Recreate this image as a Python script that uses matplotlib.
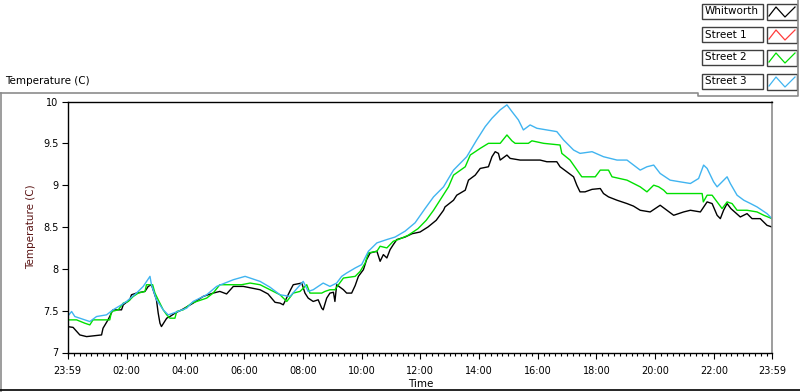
import numpy as np
import matplotlib
matplotlib.use("Agg")
import matplotlib.pyplot as plt
from matplotlib.lines import Line2D
from matplotlib.patches import Rectangle

W, H = 800, 392

# time in hours after the 23:59 start, temperature in C
whit_t = [0.00, 0.19, 0.42, 0.65, 1.16, 1.21, 1.38, 1.55, 1.84, 1.90, 2.12, 2.18, 2.35,
          2.64, 2.75, 2.86, 3.03, 3.09, 3.15, 3.20, 3.38, 3.49, 3.66, 3.89, 4.28, 4.62,
          4.96, 5.19, 5.42, 5.65, 5.99, 6.56, 6.83, 7.07, 7.24, 7.35, 7.60, 7.69, 7.98,
          8.09, 8.20, 8.37, 8.54, 8.66, 8.71, 8.83, 8.94, 9.06, 9.11, 9.17, 9.40, 9.51,
          9.68, 9.80, 9.91, 10.08, 10.19, 10.31, 10.54, 10.65, 10.76, 10.88, 10.99, 11.10,
          11.22, 11.50, 11.74, 12.01, 12.28, 12.56, 12.81, 12.86, 13.15, 13.26, 13.55,
          13.66, 13.89, 14.06, 14.34, 14.46, 14.57, 14.68, 14.74, 14.97, 15.08, 15.42,
          16.10, 16.33, 16.67, 16.78, 17.01, 17.24, 17.35, 17.46, 17.63, 17.87, 18.15,
          18.26, 18.43, 18.72, 19.06, 19.28, 19.51, 19.85, 20.19, 20.42, 20.65, 20.99,
          21.22, 21.56, 21.79, 21.96, 22.13, 22.24, 22.35, 22.47, 22.60, 22.92, 23.15,
          23.32, 23.60, 23.83, 24.00]
whit_v = [7.31, 7.30, 7.21, 7.19, 7.21, 7.29, 7.39, 7.51, 7.51, 7.57, 7.63, 7.69, 7.71,
          7.73, 7.79, 7.81, 7.63, 7.47, 7.35, 7.31, 7.41, 7.43, 7.47, 7.51, 7.59, 7.67,
          7.71, 7.73, 7.70, 7.79, 7.79, 7.75, 7.70, 7.60, 7.59, 7.57, 7.75, 7.81, 7.83,
          7.71, 7.65, 7.61, 7.63, 7.53, 7.51, 7.65, 7.71, 7.72, 7.61, 7.81, 7.75, 7.71,
          7.71, 7.80, 7.91, 7.99, 8.11, 8.19, 8.21, 8.09, 8.17, 8.13, 8.23, 8.29,
          8.35, 8.38, 8.42, 8.44, 8.50, 8.58, 8.70, 8.74, 8.82, 8.88, 8.94,
          9.06, 9.12, 9.20, 9.22, 9.34, 9.40, 9.38, 9.30, 9.36, 9.32, 9.30,
          9.30, 9.28, 9.28, 9.22, 9.16, 9.10, 9.00, 8.92, 8.92, 8.95, 8.96,
          8.90, 8.86, 8.82, 8.78, 8.75, 8.70, 8.68, 8.76, 8.70, 8.64, 8.68,
          8.70, 8.68, 8.80, 8.78, 8.64, 8.60, 8.70, 8.78, 8.72, 8.62, 8.66,
          8.60, 8.60, 8.52, 8.50]

street2_t = [0.00, 0.31, 0.59, 0.76, 0.87, 1.44, 1.50, 1.73, 1.90, 2.07, 2.24, 2.41, 2.64,
             2.69, 2.90, 2.98, 3.09, 3.26, 3.38, 3.49, 3.66, 3.72, 3.94, 4.23, 4.74, 4.96,
             5.19, 5.93, 6.22, 6.56, 6.90, 7.24, 7.47, 7.69, 7.92, 8.15, 8.26, 8.66, 8.77,
             8.94, 9.11, 9.23, 9.40, 9.80, 9.97, 10.14, 10.25, 10.54, 10.65, 10.88, 11.10,
             11.27, 11.60, 11.94, 12.22, 12.47, 12.98, 13.15, 13.55, 13.72, 14.06, 14.34,
             14.74, 14.97, 15.14, 15.25, 15.70, 15.82, 16.22, 16.78, 16.84, 17.12, 17.52,
             17.98, 18.15, 18.43, 18.55, 19.06, 19.51, 19.74, 19.97, 20.14, 20.31, 20.42,
             21.62, 21.66, 21.79, 21.96, 22.13, 22.30, 22.47, 22.64, 22.81, 23.15, 23.49,
             23.72, 24.00]
street2_v = [7.39, 7.39, 7.35, 7.33, 7.39, 7.39, 7.49, 7.51, 7.59, 7.61, 7.67, 7.71, 7.73,
             7.81, 7.81, 7.71, 7.63, 7.51, 7.45, 7.41, 7.41, 7.49, 7.51, 7.59, 7.65, 7.71,
             7.81, 7.81, 7.83, 7.81, 7.75, 7.69, 7.61, 7.71, 7.73, 7.81, 7.71, 7.71, 7.73,
             7.75, 7.75, 7.81, 7.89, 7.91, 7.97, 8.07, 8.19, 8.21, 8.27, 8.25, 8.33,
             8.35, 8.40, 8.48, 8.58, 8.70, 8.98, 9.12, 9.22, 9.36, 9.44, 9.50,
             9.50, 9.60, 9.53, 9.50, 9.50, 9.53, 9.50, 9.48, 9.38, 9.30, 9.10,
             9.10, 9.18, 9.18, 9.10, 9.06, 8.98, 8.92, 9.00, 8.98, 8.94, 8.90,
             8.90, 8.80, 8.88, 8.88, 8.80, 8.72, 8.80, 8.78, 8.70, 8.70, 8.68,
             8.64, 8.60]

street3_t = [0.00, 0.14, 0.25, 0.59, 0.76, 0.99, 1.33, 1.55, 1.84, 2.01, 2.35, 2.58, 2.81,
             2.86, 3.03, 3.26, 3.43, 3.60, 4.06, 4.28, 4.74, 5.08, 5.65, 6.05, 6.56, 6.90,
             7.24, 7.58, 8.03, 8.20, 8.37, 8.71, 8.94, 9.17, 9.34, 9.51, 9.80, 10.02, 10.25,
             10.54, 10.88, 11.16, 11.50, 11.84, 12.18, 12.47, 12.81, 13.15, 13.60, 13.94,
             14.23, 14.46, 14.74, 14.97, 15.14, 15.36, 15.53, 15.76, 15.99, 16.33, 16.67,
             16.90, 17.24, 17.46, 17.87, 18.26, 18.72, 19.06, 19.51, 19.74, 19.97, 20.19,
             20.53, 20.87, 21.22, 21.50, 21.67, 21.79, 22.01, 22.13, 22.30, 22.47, 22.58,
             22.81, 23.04, 23.27, 23.49, 23.83, 24.00]
street3_v = [7.43, 7.49, 7.43, 7.39, 7.37, 7.43, 7.45, 7.51, 7.57, 7.61, 7.71, 7.79, 7.91,
             7.81, 7.63, 7.51, 7.45, 7.47, 7.53, 7.61, 7.69, 7.79, 7.87, 7.91, 7.85, 7.78,
             7.69, 7.67, 7.85, 7.73, 7.75, 7.83, 7.79, 7.83, 7.91, 7.95, 8.01, 8.05, 8.21,
             8.31, 8.35, 8.38, 8.45, 8.55, 8.72, 8.86, 8.98, 9.18, 9.34, 9.54,
             9.70, 9.80, 9.90, 9.96, 9.88, 9.78, 9.66, 9.72, 9.68, 9.66, 9.64,
             9.54, 9.42, 9.38, 9.40, 9.34, 9.30, 9.30, 9.18, 9.22, 9.24, 9.14,
             9.06, 9.04, 9.02, 9.08, 9.24, 9.20, 9.04, 8.98, 9.04, 9.10, 9.02,
             8.88, 8.82, 8.78, 8.74, 8.66, 8.60]

legend_names = ["Whitworth", "Street 1", "Street 2", "Street 3"]
colors = ["#000000", "#ff3c3c", "#00e000", "#40b4f0"]

x_labels = ["23:59", "02:00", "04:00", "06:00", "08:00", "10:00", "12:00",
            "14:00", "16:00", "18:00", "20:00", "22:00", "23:59"]
y_ticks = [7, 7.5, 8, 8.5, 9, 9.5, 10]
y_labels = ["7", "7.5", "8", "8.5", "9", "9.5", "10"]


def fx(px):
    return px / W


def fy(py):
    return 1 - py / H


def fig_line(fig, xs, ys, color, lw=1.0):
    fig.add_artist(Line2D([fx(v) for v in xs], [fy(v) for v in ys],
                          color=color, lw=lw, transform=fig.transFigure))


fig = plt.figure(figsize=(W / 100, H / 100), dpi=100)
fig.patch.set_facecolor("white")

ax = fig.add_axes([fx(67.5), fy(352.5), (772 - 67.5) / W, (352.5 - 101.5) / H])
ax.plot(whit_t, whit_v, color=colors[0], lw=1.0)
ax.plot(street2_t, street2_v, color=colors[2], lw=1.0)
ax.plot(street3_t, street3_v, color=colors[3], lw=1.0)

ax.set_xlim(0, 24)
ax.set_ylim(7, 10)

off = 1 / 60
major = [0] + [h + off for h in range(2, 23, 2)] + [24]
ax.set_xticks(major)
ax.set_xticklabels(x_labels)
minor = [0.2 * k + off for k in range(120) if (0.2 * k + off) not in major]
ax.set_xticks(minor, minor=True)
ax.set_yticks(y_ticks)
ax.set_yticklabels(y_labels)

ax.tick_params(axis="x", which="major", length=4.5, width=0.8, pad=5, labelsize=7)
ax.tick_params(axis="x", which="minor", length=2.5, width=0.8)
ax.tick_params(axis="y", which="major", length=4.5, width=0.8, pad=2, labelsize=7)

for s in ["left", "top", "bottom"]:
    ax.spines[s].set_color("black")
    ax.spines[s].set_linewidth(1.0)
ax.spines["right"].set_color("#8c8c8c")
ax.spines["right"].set_linewidth(1.2)

# labels
fig.text(fx(5), fy(81), "Temperature (C)", fontsize=7.5, ha="left", va="center")
fig.text(fx(31), fy(227), "Temperature (C)", fontsize=7.5, rotation=90,
         ha="center", va="center", color="#5a1414")
fig.text(fx(421), fy(384), "Time", fontsize=7.5, ha="center", va="center")

# outer panel lines
fig_line(fig, [0, 698, 698, 798, 798], [92.5, 92.5, 96, 96, 0], "#8c8c8c", 1.2)
fig_line(fig, [1, 1], [92.5, 392], "#8c8c8c", 1.2)
fig_line(fig, [0, 800], [389.5, 389.5], "black", 1.2)

# legend
row_top = [4, 27, 50, 74]
for name, col, top in zip(legend_names, colors, row_top):
    box = Rectangle((fx(702), fy(top + 15)), (763 - 702) / W, 15 / H,
                    transform=fig.transFigure, facecolor="white",
                    edgecolor="#404040", lw=1.0)
    fig.add_artist(box)
    fig.text(fx(705), fy(top + 7.5), name, fontsize=7.5, ha="left", va="center")
    sbox = Rectangle((fx(767), fy(top + 16)), (797 - 767) / W, 16 / H,
                     transform=fig.transFigure, facecolor="white",
                     edgecolor="#404040", lw=1.0)
    fig.add_artist(sbox)
    zx = [769, 776, 785, 795]
    zy = [top + 12, top + 3, top + 13, top + 3]
    fig_line(fig, zx, zy, col, 0.9)

fig.savefig("out.png", dpi=100)
